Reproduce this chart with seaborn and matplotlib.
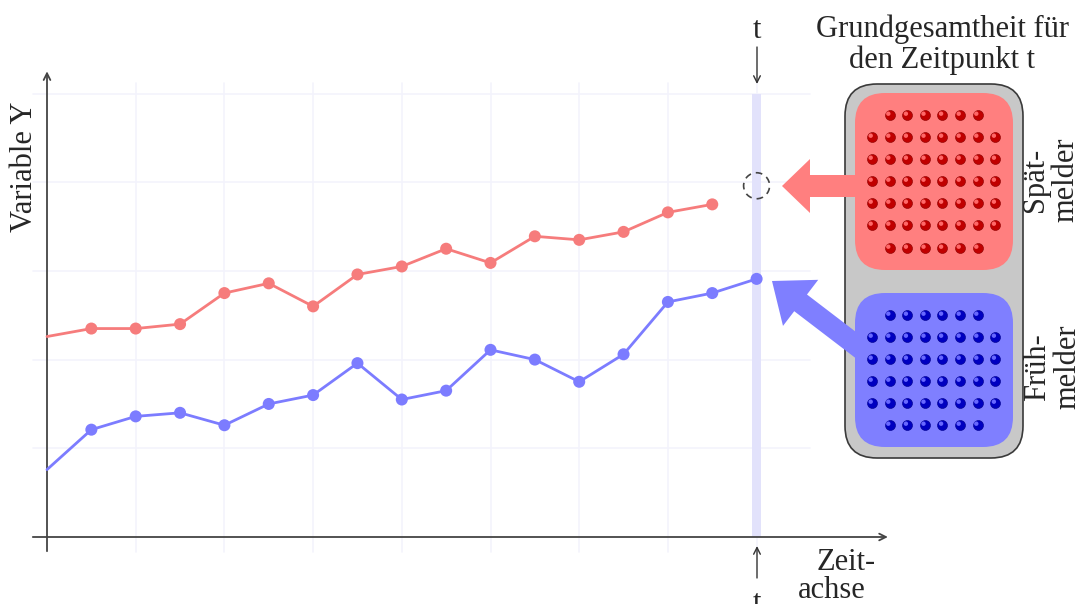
import numpy as np
import pandas as pd
import seaborn as sns
import matplotlib
matplotlib.use("Agg")
import matplotlib.pyplot as plt
from matplotlib.patches import FancyBboxPatch, FancyArrow, Circle, Rectangle

# ---------------- data ----------------
time_red = [0.0, 0.5, 1.0, 1.5, 2.0, 2.5, 3.0, 3.5, 4.0, 4.5, 5.0, 5.5, 6.0, 6.5, 7.0, 7.5]
spaetmelder = [2.26, 2.35, 2.35, 2.40, 2.75, 2.86, 2.60, 2.96, 3.05, 3.25, 3.09, 3.39, 3.35, 3.44, 3.66, 3.75]
time_blue = [0.0, 0.5, 1.0, 1.5, 2.0, 2.5, 3.0, 3.5, 4.0, 4.5, 5.0, 5.5, 6.0, 6.5, 7.0, 7.5, 8.0]
fruehmelder = [0.76, 1.21, 1.36, 1.40, 1.26, 1.50, 1.60, 1.96, 1.55, 1.65, 2.11, 2.00, 1.75, 2.06, 2.65, 2.75, 2.91]
t_point = 8.0
missing_red = 3.96
grid_x = [1, 2, 3, 4, 5, 6, 7, 8]
grid_y = [1, 2, 3, 4, 5]

RED_LINE = "#f67c7c"
BLUE_LINE = "#7c7cff"

sns.set_theme(style="white")
plt.rcParams['font.family'] = ['Liberation Serif', 'DejaVu Serif']

W, H = 1082, 604
fig = plt.figure(figsize=(W / 100, H / 100), dpi=100)

# main data axes: 1 unit = 88.7 px, origin at pixel (47, 537)
U = 88.7
OX, OY = 47, 537
ax = fig.add_axes([0, 0, 1, 1])
ax.set_xlim(-OX / U, (W - OX) / U)
ax.set_ylim((OY - H) / U, OY / U)
ax.axis("off")

# overlay axes in pixel coordinates
ov = fig.add_axes([0, 0, 1, 1], facecolor="none")
ov.set_xlim(0, W)
ov.set_ylim(H, 0)
ov.axis("off")

# grid
for gy in grid_y:
    ax.plot([-0.16, 8.6], [gy, gy], color="#f3f3fc", lw=1.2, zorder=0)
for gx in grid_x:
    ax.plot([gx, gx], [-0.17, 5.12], color="#f3f3fc", lw=1.2, zorder=0)

# highlight band at t
ax.add_patch(Rectangle((t_point - 0.05, 0), 0.10, 5.0, color="#e2e2fb", lw=0, zorder=0.5))

# axes with arrows
ax.annotate("", xy=(9.48, 0), xytext=(-0.16, 0),
            arrowprops=dict(arrowstyle="->", color="#444444", lw=1.3, shrinkA=0, shrinkB=0))
ax.annotate("", xy=(0, 5.25), xytext=(0, -0.16),
            arrowprops=dict(arrowstyle="->", color="#444444", lw=1.3, shrinkA=0, shrinkB=0))

# series
df_red = pd.DataFrame({"Zeit": time_red, "Y": spaetmelder})
df_blue = pd.DataFrame({"Zeit": time_blue, "Y": fruehmelder})
sns.lineplot(data=df_red, x="Zeit", y="Y", ax=ax, color=RED_LINE, lw=2, zorder=3, legend=False)
sns.lineplot(data=df_blue, x="Zeit", y="Y", ax=ax, color=BLUE_LINE, lw=2, zorder=3, legend=False)
sns.scatterplot(data=df_red.iloc[1:], x="Zeit", y="Y", ax=ax, color=RED_LINE, s=75,
                edgecolor="none", zorder=4, legend=False)
sns.scatterplot(data=df_blue.iloc[1:], x="Zeit", y="Y", ax=ax, color=BLUE_LINE, s=75,
                edgecolor="none", zorder=4, legend=False)
ax.set_xlim(-OX / U, (W - OX) / U)
ax.set_ylim((OY - H) / U, OY / U)

# dashed circle for the missing late reporter value
ax.add_patch(Circle((t_point, missing_red), 13 / U, fill=False, ls=(0, (4, 3)),
                    ec="#444444", lw=1.2, zorder=5))

# texts
ov.text(25, 167, "Variable Y", rotation=90, ha="center", va="center", fontsize=22)
ov.text(757, 38, "t", ha="center", va="baseline", fontsize=22)
ov.annotate("", xy=(757, 84), xytext=(757, 47),
            arrowprops=dict(arrowstyle="->", color="#333333", lw=1.0, shrinkA=0, shrinkB=0))
ov.annotate("", xy=(757, 546), xytext=(757, 578),
            arrowprops=dict(arrowstyle="->", color="#333333", lw=1.0, shrinkA=0, shrinkB=0))
ov.text(757, 611, "t", ha="center", va="baseline", fontsize=22, clip_on=False)
ov.text(876, 570, "Zeit-", ha="right", va="baseline", fontsize=22)
ov.text(866, 598, "achse", ha="right", va="baseline", fontsize=22)
ov.text(942, 37, "Grundgesamtheit für", ha="center", va="baseline", fontsize=22)
ov.text(942, 68, "den Zeitpunkt t", ha="center", va="baseline", fontsize=22)

# population box
ov.add_patch(FancyBboxPatch((845, 84), 178, 374, boxstyle="round,pad=0,rounding_size=32",
                            fc="#c8c8c8", ec="#3a3a3a", lw=1.2, zorder=2))
ov.add_patch(FancyBboxPatch((855, 93), 158, 177, boxstyle="round,pad=0,rounding_size=30",
                            fc="#ff7f7f", ec="none", zorder=3))
ov.add_patch(FancyBboxPatch((855, 293), 158, 154, boxstyle="round,pad=0,rounding_size=30",
                            fc="#7f7fff", ec="none", zorder=3))

# big arrows (drawn over the grey frame, merging into the coloured boxes)
ov.add_patch(FancyArrow(870, 186, -88, 0, width=22, head_width=54, head_length=28,
                        length_includes_head=True, fc="#ff7f7f", ec="none", zorder=3.5))
ov.add_patch(FancyArrow(878, 362, -106, -81, width=21, head_width=58, head_length=36,
                        length_includes_head=True, fc="#7f7fff", ec="none", zorder=3.5))

# dots in the boxes
cols = [872 + 17.6 * k for k in range(8)]
def dot_grid(rows):
    xs, ys = [], []
    for i, ry in enumerate(rows):
        ks = range(1, 7) if i in (0, len(rows) - 1) else range(8)
        for k in ks:
            xs.append(cols[k]); ys.append(ry)
    return np.array(xs), np.array(ys)

rx, ry = dot_grid([115, 137, 159, 181, 203, 225, 248])
bx, by = dot_grid([315, 337, 359, 381, 403, 425])
ov.scatter(rx, ry, s=52, color="#c00000", edgecolor="#8a0000", lw=0.4, zorder=4)
ov.scatter(rx - 1.3, ry - 1.3, s=10, color="#ff6868", edgecolor="none", zorder=5)
ov.scatter(bx, by, s=52, color="#0000c0", edgecolor="#00008a", lw=0.4, zorder=4)
ov.scatter(bx - 1.3, by - 1.3, s=10, color="#6868ff", edgecolor="none", zorder=5)

ov.text(1051, 180, "Spät-\nmelder", rotation=90, ha="center", va="center", fontsize=22,
        linespacing=1.05, multialignment="center")
ov.text(1053, 367, "Früh-\nmelder", rotation=90, ha="center", va="center", fontsize=22,
        linespacing=1.05, multialignment="center")

fig.savefig("out.png", dpi=100)
